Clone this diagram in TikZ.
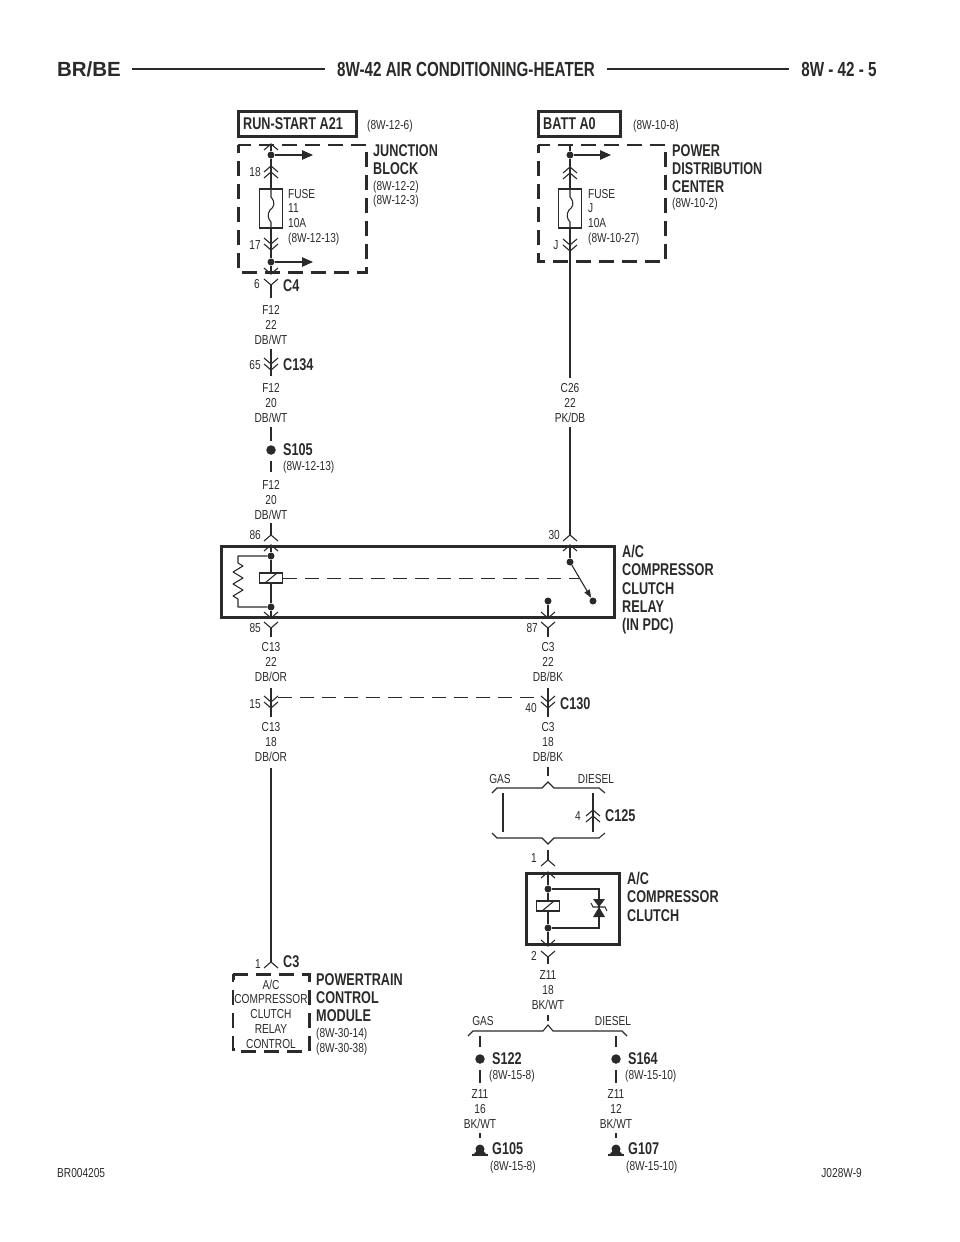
\documentclass[tikz,border=0pt]{standalone}
\usepackage{fontspec}
\setmainfont[FakeStretch=.78,BoldFeatures={FakeStretch=.745}]{Liberation Sans}
\newfontfamily\widefont{Liberation Sans}
\usetikzlibrary{arrows.meta}
\definecolor{ink}{HTML}{2B2A29}
\tikzset{
  wire/.style={line width=1.1pt,draw=ink},
  hvybox/.style={line width=3pt,draw=ink},
  thinbox/.style={line width=1.2pt,draw=ink},
  dashbox/.style={line width=2.8pt,draw=ink,dash pattern=on 15pt off 8pt,dash phase=7pt},
  ctlline/.style={line width=1pt,draw=ink,dash pattern=on 14pt off 8pt},
  tiparrow/.style={wire,-{Triangle[length=11pt,width=9.5pt]}},
  spot/.style={circle,fill=ink,inner sep=0pt,minimum size=7pt},
  bigspot/.style={circle,fill=ink,inner sep=0pt,minimum size=9.5pt},
  small/.style={text=ink,inner sep=0pt,font=\fontsize{13}{14.7}\selectfont},
  wirelab/.style={small,align=center},
  sidelab/.style={small,align=left,anchor=west},
  heavy/.style={text=ink,inner sep=0pt,font=\fontsize{17}{18.3}\selectfont\bfseries},
  heavylab/.style={heavy,align=left,anchor=north west},
  pics/chevup/.style={code={\draw[wire] (-7,6) -- (0,0) -- (7,6);}},
  pics/chevdn/.style={code={\draw[wire] (-7,-6) -- (0,0) -- (7,-6);}},
  pics/dblup/.style={code={\draw[wire] (-7,6) -- (0,0) -- (7,6) (-7,12) -- (0,6) -- (7,12);}},
  pics/dbldn/.style={code={\draw[wire] (-7,-6) -- (0,0) -- (7,-6) (-7,-12) -- (0,-6) -- (7,-12);}},
  pics/fuse/.style={code={
    \draw[thinbox] (-11.5,0) rectangle (11.5,39);
    \draw[wire] (0,0) -- (0,8) .. controls (5,14) and (3,18) .. (-1,21) .. controls (-4,25) and (-3,30) .. (0,33) -- (0,39);}},
  pics/coil/.style={code={
    \draw[thinbox,fill=white] (-11.5,-5) rectangle (11.5,5);
    \draw[wire] (-6,5) -- (6,-5);}},
  pics/gnd/.style={code={
    \fill[ink] (0,-1) circle (4.5);
    \fill[ink] (-3.5,1) -- (3.5,1) -- (6,4) -- (-6,4) -- cycle;
    \draw[line width=2pt,draw=ink] (-8,4.5) -- (8,4.5);}},
}
\begin{document}
\begin{tikzpicture}[x=1pt,y=-1pt]
\useasboundingbox (0,0) rectangle (960,1242);

% header
\node[text=ink,inner sep=0pt,font=\fontsize{20.5}{20}\widefont\bfseries] (hdl) at (89,69) {BR/BE};
\node[heavy,font=\fontsize{20.4}{18}\selectfont\bfseries] (hdm) at (466,69) {8W-42 AIR CONDITIONING-HEATER};
\node[heavy,font=\fontsize{20.4}{18}\selectfont\bfseries] (hdr) at (839,69) {8W - 42 - 5};
\draw[line width=2.4pt,draw=ink] (hdl.east) ++(11,0) -- ([xshift=-12pt]hdm.west);
\draw[line width=2.4pt,draw=ink] (hdm.east) ++(12,0) -- ([xshift=-12pt]hdr.west);

% junction block
\node[hvybox,minimum width=118pt,minimum height=25pt,inner sep=0pt] (runstart) at (297.5,124) {};
\node[heavy,anchor=west] (runtxt) at (243,124) {RUN-START A21};
\node[small,anchor=west] (runref) at (367,126) {(8W-12-6)};
\draw[dashbox] (238.4,145) rectangle (366.6,272.6);
\node[heavylab] (jblab) at (373,144) {JUNCTION\\BLOCK};
\node[sidelab] (jbref) at (373,194) {(8W-12-2)\\(8W-12-3)};

\coordinate (jbtop) at (271,144);
\node[spot] (jbd1) at (271,155) {};
\coordinate (jbo1) at (313,155);
\coordinate (jbc1) at (271,166);
\coordinate (jbf1) at (271,189);
\coordinate (jbf2) at (271,228);
\coordinate (jbc2) at (271,250);
\node[spot] (jbd2) at (271,262) {};
\coordinate (jbo2) at (313,262);
\coordinate (jbbot) at (271,274);
\pic at (jbtop) {chevup};
\pic at (jbc1) {dblup};
\pic at (jbf1) {fuse};
\pic at (jbc2) {dbldn};
\pic at (jbbot) {chevdn};
\draw[wire] (jbtop) -- (jbd1) -- (jbc1) (jbc1) -- (jbf1) (jbf2) -- (jbc2) -- (jbd2) -- (jbbot);
\draw[tiparrow] (jbd1) -- (jbo1);
\draw[tiparrow] (jbd2) -- (jbo2);
\node[small] (p18) at (255,172) {18};
\node[small] (p17) at (255,245) {17};
\node[sidelab] (fuse11) at (288,217) {FUSE\\11\\10A\\(8W-12-13)};

% power distribution center
\node[hvybox,minimum width=82pt,minimum height=25pt,inner sep=0pt] (batt) at (579.5,124) {};
\node[heavy,anchor=west] (batttxt) at (543,124) {BATT A0};
\node[small,anchor=west] (battref) at (633,126) {(8W-10-8)};
\draw[dashbox] (538.4,145) rectangle (665.6,261.6);
\node[heavylab] (pdclab) at (672,144) {POWER\\DISTRIBUTION\\CENTER};
\node[small,anchor=west] (pdcref) at (672,204) {(8W-10-2)};

\coordinate (pdctop) at (570,144);
\node[spot] (pdcd1) at (570,155) {};
\coordinate (pdco1) at (611,155);
\coordinate (pdcc1) at (570,167);
\coordinate (pdcf1) at (570,189);
\coordinate (pdcf2) at (570,228);
\coordinate (pdcc2) at (570,251);
\coordinate (c26a) at (570,378);
\pic at (pdcc1) {dblup};
\pic at (pdcf1) {fuse};
\pic at (pdcc2) {dbldn};
\draw[wire] (pdctop) -- (pdcd1) -- (pdcc1) (pdcc1) -- (pdcf1) (pdcf2) -- (pdcc2) -- (c26a);
\draw[tiparrow] (pdcd1) -- (pdco1);
\node[small] (pj) at (556,245) {J};
\node[sidelab] (fusej) at (588,217) {FUSE\\J\\10A\\(8W-10-27)};
\node[wirelab] (wc26) at (570,403) {C26\\22\\PK/DB};
\coordinate (c26b) at (570,427);

% left feed down to relay
\coordinate (c4a) at (271,285);
\coordinate (c4b) at (271,298);
\pic at (c4a) {chevdn};
\draw[wire] (c4a) -- (c4b);
\node[small] (p6) at (257,284) {6};
\node[heavy,anchor=west] (c4) at (283,286) {C4};
\node[wirelab] (wf1) at (271,325) {F12\\22\\DB/WT};

\coordinate (c134a) at (271,349);
\coordinate (c134c) at (271,370);
\coordinate (c134b) at (271,376);
\pic at (c134c) {dbldn};
\draw[wire] (c134a) -- (c134b);
\node[small] (p65) at (255,365) {65};
\node[heavy,anchor=west] (c134) at (283,365) {C134};
\node[wirelab] (wf2) at (271,403) {F12\\20\\DB/WT};

\coordinate (s105a) at (271,427);
\node[bigspot] (s105d) at (271,450) {};
\coordinate (s105b) at (271,441);
\coordinate (s105c) at (271,461);
\coordinate (s105e) at (271,472);
\draw[wire] (s105a) -- (s105b) (s105c) -- (s105e);
\node[heavy,anchor=west] (s105) at (283,450) {S105};
\node[small,anchor=west] (s105ref) at (283,467) {(8W-12-13)};
\node[wirelab] (wf3) at (271,500) {F12\\20\\DB/WT};

% relay
\draw[hvybox] (221.5,546) rectangle (614.5,617);
\foreach \nm/\xx/\lab in {a/271/86,b/570/30} {
  \coordinate (top\nm) at (\xx,523);
  \coordinate (ap\nm) at (\xx,535);
  \coordinate (in\nm) at (\xx,545);
  \pic at (ap\nm) {chevup};
  \pic at (in\nm) {chevup};
  \draw[wire] (top\nm) -- (ap\nm);
  \node[small,anchor=east] (p\lab) at (\xx-10,535) {\lab};
}
\draw[wire] (c26b) -- (topb);
\node[spot] (rlt) at (271,556) {};
\node[spot] (rlb) at (271,607) {};
\coordinate (rlc) at (271,578);
\coordinate (rlout) at (271,618);
\coordinate (rst) at (238,556);
\coordinate (rsb) at (238,607);
\draw[wire] (ina) -- (rlt) -- (rlc) -- (rlb) -- (rlout);
\pic at (rlc) {coil};
\pic at (rlout) {chevdn};
\draw[wire,line join=bevel] (rlt) -- (rst) -- (238,563) -- (243,566) -- (233,572) -- (243,578) -- (233,584) -- (243,590) -- (233,596) -- (238,599) -- (rsb) -- (rlb);
\coordinate (dashl) at (283,578);
\coordinate (dashr) at (580,578);
\draw[ctlline] (dashl) -- (dashr);
\node[spot] (swa) at (570,562) {};
\node[spot] (swb) at (593,601) {};
\draw[wire] (inb) -- (swa);
\draw[wire,-{Triangle[length=8pt,width=6pt]}] (swa) -- (swb);
\node[spot] (swc) at (548,601) {};
\coordinate (swout) at (548,618);
\draw[wire] (swc) -- (swout);
\pic at (swout) {chevdn};
\node[heavylab] (rellab) at (622,545) {A/C\\COMPRESSOR\\CLUTCH\\RELAY\\(IN PDC)};

% below relay
\foreach \nm/\xx/\lab in {a/271/85,b/548/87} {
  \coordinate (y\nm) at (\xx,628);
  \coordinate (ye\nm) at (\xx,637);
  \pic at (y\nm) {chevdn};
  \draw[wire] (y\nm) -- (ye\nm);
  \node[small,anchor=east] (p\lab) at (\xx-10,628) {\lab};
}
\node[wirelab] (wc1) at (271,662) {C13\\22\\DB/OR};
\node[wirelab] (wc2) at (548,662) {C3\\22\\DB/BK};

\foreach \nm/\xx in {a/271,b/548} {
  \coordinate (cc\nm) at (\xx,688);
  \coordinate (cm\nm) at (\xx,708);
  \coordinate (ce\nm) at (\xx,717);
  \pic at (cm\nm) {dbldn};
  \draw[wire] (cc\nm) -- (ce\nm);
}
\coordinate (c130l) at (278,697);
\coordinate (c130r) at (541,697);
\draw[ctlline] (c130l) -- (c130r);
\node[small] (p15) at (255,704) {15};
\node[small] (p40) at (531,708) {40};
\node[heavy,anchor=west] (c130) at (560,704) {C130};
\node[wirelab] (wc3) at (271,742) {C13\\18\\DB/OR};
\node[wirelab] (wc4) at (548,742) {C3\\18\\DB/BK};

% pcm
\coordinate (pcmt) at (271,768);
\coordinate (pcma) at (271,962);
\pic at (pcma) {chevup};
\draw[wire] (pcmt) -- (pcma);
\node[small] (p1a) at (258,964) {1};
\node[heavy,anchor=west] (c3) at (283,962) {C3};
\draw[dashbox] (233.4,974.4) rectangle (309.6,1051.6);
\node[wirelab,fill=white] (pcmtxt) at (271,1014) {A/C\\COMPRESSOR\\CLUTCH\\RELAY\\CONTROL};
\node[heavylab] (pcmlab) at (316,973) {POWERTRAIN\\CONTROL\\MODULE};
\node[sidelab] (pcmref) at (316,1041.5) {(8W-30-14)\\(8W-30-38)};

% gas / diesel before clutch
\coordinate (upa) at (548,767);
\coordinate (upb) at (548,776);
\draw[wire] (upa) -- (upb);
\draw[wire] (492,793) -- (497,788) -- (542,788) -- (548,782) -- (554,788) -- (599,788) -- (605,793);
\node[small] (gas1) at (500,779) {GAS};
\node[small] (die1) at (596,779) {DIESEL};
\coordinate (gasa) at (503,793);
\coordinate (gasb) at (503,832);
\draw[wire] (gasa) -- (gasb);
\coordinate (diea) at (593,793);
\coordinate (dieb) at (593,832);
\coordinate (diec) at (593,810);
\draw[wire] (diea) -- (dieb);
\pic at (diec) {dblup};
\node[small] (p4) at (578,816) {4};
\node[heavy,anchor=west] (c125) at (605,816) {C125};
\draw[wire] (492,833) -- (497,838) -- (542,838) -- (548,844) -- (554,838) -- (599,838) -- (605,833);

% clutch
\coordinate (cla) at (548,850);
\coordinate (clb) at (548,860);
\pic at (clb) {chevup};
\draw[wire] (cla) -- (clb);
\node[small] (p1b) at (534,858) {1};
\draw[hvybox] (526.5,873.5) rectangle (619.5,944.5);
\coordinate (clin) at (548,872);
\pic at (clin) {chevup};
\node[spot] (clt) at (548,889) {};
\node[spot] (clm) at (548,928) {};
\coordinate (clc) at (548,906);
\coordinate (clout) at (548,946);
\draw[wire] (clin) -- (clt) -- (clc) -- (clm) -- (clout);
\pic at (clc) {coil};
\pic at (clout) {chevdn};
\coordinate (zt) at (599,889);
\coordinate (zb) at (599,928);
\draw[wire] (clt) -- (zt) -- (zb) -- (clm);
\fill[ink] (593,899) -- (605,899) -- (599,907) -- cycle;
\fill[ink] (593,917) -- (605,917) -- (599,907) -- cycle;
\draw[wire] (591,903) -- (593,907) -- (605,907) -- (607,911);
\node[heavylab] (cllab) at (627,872) {A/C\\COMPRESSOR\\CLUTCH};
\coordinate (cly) at (548,957);
\coordinate (clz) at (548,964);
\pic at (cly) {chevdn};
\draw[wire] (cly) -- (clz);
\node[small] (p2) at (534,956) {2};
\node[wirelab] (wz1) at (548,990) {Z11\\18\\BK/WT};

% grounds
\coordinate (dna) at (548,1015);
\coordinate (dnb) at (548,1021);
\draw[wire] (dna) -- (dnb);
\draw[wire] (468,1036) -- (473,1031) -- (543,1031) -- (548,1025) -- (553,1031) -- (622,1031) -- (627,1036);
\node[small] (gas2) at (483,1021) {GAS};
\node[small] (die2) at (613,1021) {DIESEL};
\foreach \nm/\xx/\gage/\sp/\gnd/\sref/\gref in {l/480/16/S122/G105/(8W-15-8)/(8W-15-8),r/616/12/S164/G107/(8W-15-10)/(8W-15-10)} {
  \coordinate (g1\nm) at (\xx,1036);
  \coordinate (g2\nm) at (\xx,1047);
  \node[bigspot] (gd\nm) at (\xx,1059) {};
  \coordinate (g3\nm) at (\xx,1070);
  \coordinate (g4\nm) at (\xx,1083);
  \coordinate (g5\nm) at (\xx,1133);
  \coordinate (g6\nm) at (\xx,1138);
  \coordinate (g7\nm) at (\xx,1150);
  \draw[wire] (g1\nm) -- (g2\nm) (g3\nm) -- (g4\nm) (g5\nm) -- (g6\nm);
  \pic at (g7\nm) {gnd};
  \node[heavy,anchor=west] (sl\nm) at (\xx+12,1059) {\sp};
  \node[small,anchor=west] (sr\nm) at (\xx+9,1076) {\sref};
  \node[wirelab] (wz\nm) at (\xx,1109) {Z11\\\gage\\BK/WT};
  \node[heavy,anchor=west] (gl\nm) at (\xx+12,1149) {\gnd};
  \node[small,anchor=west] (gr\nm) at (\xx+10,1167) {\gref};
}

% footer
\node[small,anchor=west] (figl) at (57,1173) {BR004205};
\node[small,anchor=east] (figr) at (862,1173) {J028W-9};
\end{tikzpicture}
\end{document}
